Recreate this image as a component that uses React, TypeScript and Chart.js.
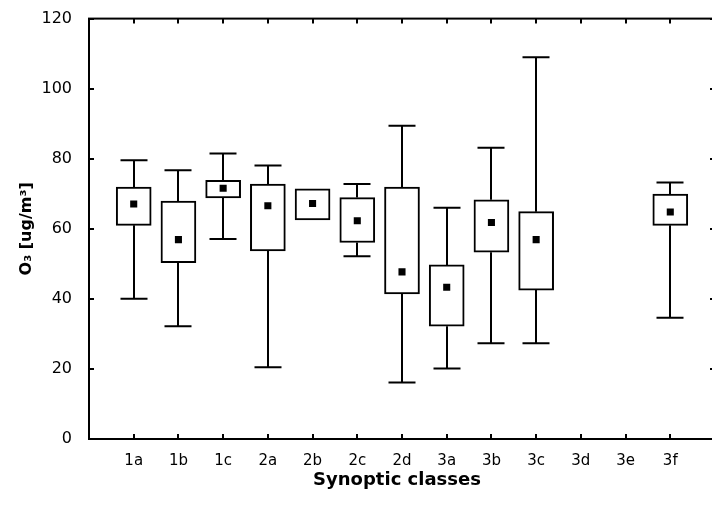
import React, { useEffect, useRef } from "react";
import { Chart, registerables } from "chart.js";

Chart.register(...registerables);

const categories = ["1a", "1b", "1c", "2a", "2b", "2c", "2d", "3a", "3b", "3c", "3d", "3e", "3f"];
const whiskerMin: (number | null)[] = [40.0, 32.2, 57.1, 20.5, 62.5, 52.2, 16.1, 20.1, 27.3, 27.3, null, null, 34.6];
const boxLow: (number | null)[] = [61.0, 50.3, 68.8, 53.7, 62.5, 56.1, 41.4, 32.2, 53.3, 42.5, null, null, 61.0];
const medians: (number | null)[] = [67.1, 56.9, 71.6, 66.6, 67.2, 62.3, 47.7, 43.3, 61.8, 56.9, null, null, 64.8];
const boxHigh: (number | null)[] = [71.9, 67.9, 73.8, 72.8, 71.4, 68.9, 71.9, 49.7, 68.3, 64.9, null, null, 69.9];
const whiskerMax: (number | null)[] = [79.6, 76.7, 81.5, 78.1, 71.4, 72.8, 89.4, 66.0, 83.1, 109.0, null, null, 73.2];
const yTicks = [0, 20, 40, 60, 80, 100, 120];

const xTitle = "Synoptic classes";
const yTitle = "O\u2083 [ug/m\u00b3]";

const FONT = "'DejaVu Sans', sans-serif";

const framePlugin = {
  id: "frameAndWhiskers",
  afterDatasetsDraw(chart: any) {
    const { ctx, scales } = chart;
    const xs = scales.x;
    const ys = scales.y;
    ctx.save();
    ctx.strokeStyle = "#000";
    ctx.lineWidth = 2;
    const cap = 27;
    categories.forEach((_, i) => {
      const lo = whiskerMin[i], q1 = boxLow[i], q3 = boxHigh[i], hi = whiskerMax[i];
      if (lo == null || q1 == null || q3 == null || hi == null) return;
      const x = Math.round(xs.getPixelForValue(i + 1));
      ctx.beginPath();
      if (hi > q3) {
        const yh = ys.getPixelForValue(hi);
        ctx.moveTo(x, ys.getPixelForValue(q3));
        ctx.lineTo(x, yh);
        ctx.moveTo(x - cap / 2, yh);
        ctx.lineTo(x + cap / 2, yh);
      }
      if (lo < q1) {
        const yl = ys.getPixelForValue(lo);
        ctx.moveTo(x, ys.getPixelForValue(q1));
        ctx.lineTo(x, yl);
        ctx.moveTo(x - cap / 2, yl);
        ctx.lineTo(x + cap / 2, yl);
      }
      ctx.stroke();
    });
    ctx.restore();
  },
  afterDraw(chart: any) {
    const { ctx, chartArea, scales } = chart;
    const xs = scales.x;
    const ys = scales.y;
    const { left, right, top, bottom } = chartArea;
    ctx.save();
    ctx.strokeStyle = "#000";
    ctx.lineWidth = 2;
    ctx.strokeRect(left, top, right - left, bottom - top);
    const tl = 5;
    ctx.beginPath();
    categories.forEach((_, i) => {
      const x = Math.round(xs.getPixelForValue(i + 1));
      ctx.moveTo(x, bottom);
      ctx.lineTo(x, bottom - tl);
      ctx.moveTo(x, top);
      ctx.lineTo(x, top + tl);
    });
    yTicks.forEach((v) => {
      const y = Math.round(ys.getPixelForValue(v));
      ctx.moveTo(left, y);
      ctx.lineTo(left + tl, y);
      ctx.moveTo(right, y);
      ctx.lineTo(right - tl, y);
    });
    ctx.stroke();
    ctx.fillStyle = "#000";
    ctx.font = `bold 18px ${FONT}`;
    ctx.textAlign = "center";
    ctx.textBaseline = "alphabetic";
    ctx.fillText(xTitle, 397, 485);
    ctx.save();
    ctx.translate(31, (top + bottom) / 2);
    ctx.rotate(-Math.PI / 2);
    ctx.font = `bold 16px ${FONT}`;
    ctx.fillText(yTitle, 0, 0);
    ctx.restore();
    ctx.restore();
  },
};

export default function App() {
  const ref = useRef<HTMLCanvasElement>(null);
  useEffect(() => {
    if (!ref.current) return;
    const boxData: any[] = [];
    const medData: any[] = [];
    categories.forEach((_, i) => {
      const q1 = boxLow[i], q3 = boxHigh[i], m = medians[i];
      if (q1 != null && q3 != null) boxData.push({ x: i + 1, y: [q1, q3] });
      if (m != null) medData.push({ x: i + 1, y: m });
    });
    const chart = new Chart(ref.current, {
      type: "bar",
      data: {
        datasets: [
          {
            type: "scatter",
            data: medData,
            backgroundColor: "#000",
            borderWidth: 0,
            pointStyle: "rect",
            pointRadius: 5,
            order: 0,
          } as any,
          {
            type: "bar",
            data: boxData,
            backgroundColor: "#fff",
            borderColor: "#000",
            borderWidth: 2,
            borderSkipped: false,
            barThickness: 35,
            order: 1,
          } as any,
        ],
      },
      options: {
        responsive: false,
        animation: false,
        devicePixelRatio: 1,
        layout: { padding: { left: 0, right: 4, top: 13, bottom: 0 } },
        plugins: { legend: { display: false }, tooltip: { enabled: false } },
        scales: {
          x: {
            type: "linear",
            min: 0,
            max: 14,
            offset: false,
            grid: { display: false },
            border: { display: false },
            ticks: {
              stepSize: 1,
              autoSkip: false,
              maxRotation: 0,
              padding: 5,
              color: "#000",
              font: { family: FONT, size: 15 },
              callback: (v: any) => categories[Number(v) - 1] ?? "",
            },
            afterFit: (s: any) => {
              s.height = 68;
              s.paddingLeft = 0;
              s.paddingRight = 0;
            },
          },
          y: {
            type: "linear",
            min: 0,
            max: 120,
            grid: { display: false },
            border: { display: false },
            ticks: {
              stepSize: 20,
              padding: 9,
              color: "#000",
              font: { family: FONT, size: 16 },
            },
            afterFit: (s: any) => {
              s.width = 89;
            },
          },
        },
      },
      plugins: [framePlugin],
    });
    return () => chart.destroy();
  }, []);
  return (
    <div style={{ position: "fixed", left: 0, top: 0, width: 712, height: 507, overflow: "hidden", background: "#fff" }}>
      <canvas ref={ref} width={720} height={507} style={{ display: "block", width: 720, height: 507 }} />
    </div>
  );
}
